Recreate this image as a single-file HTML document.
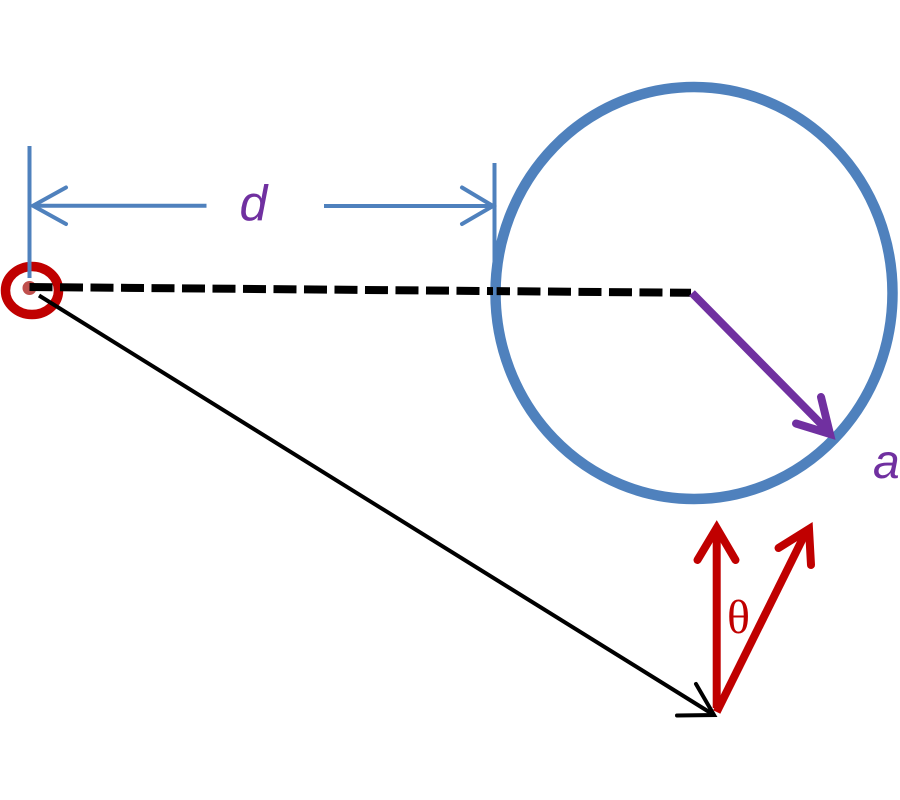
<!DOCTYPE html>
<html>
<head>
<meta charset="utf-8">
<style>
html,body{margin:0;padding:0;background:#fff;width:900px;height:800px;overflow:hidden}
svg{display:block}
</style>
</head>
<body>
<svg width="900" height="800" viewBox="0 0 900 800" xmlns="http://www.w3.org/2000/svg" fill="none">
  <!-- big circle -->
  <ellipse cx="694" cy="293" rx="198.5" ry="206" stroke="#4f81bd" stroke-width="10.5"/>
  <!-- small source -->
  <circle cx="29.5" cy="288" r="7" fill="#c0504d"/>
  <ellipse cx="32" cy="290.5" rx="26.5" ry="24" stroke="#c00000" stroke-width="9.5"/>
  <!-- dimension lines -->
  <g stroke="#4f81bd" stroke-width="4" stroke-linecap="round" stroke-linejoin="miter">
    <line x1="29.5" y1="146" x2="29.5" y2="278" stroke-linecap="butt"/>
    <line x1="494.5" y1="163" x2="494.5" y2="262" stroke-linecap="butt"/>
    <line x1="33" y1="205.8" x2="206.5" y2="205.8" stroke-linecap="butt"/>
    <line x1="324" y1="206" x2="492" y2="206" stroke-linecap="butt"/>
    <polyline points="66,187.5 33,205.8 66,224"/>
    <polyline points="462,187.5 493,206 462,224"/>
  </g>
  <!-- dashed -->
  <line x1="29.5" y1="287" x2="691" y2="292.8" stroke="#000" stroke-width="8" stroke-dasharray="23 7.5"/>
  <rect x="493" y="286" width="3.6" height="10" fill="#4f81bd"/>
  <!-- black arrow -->
  <line x1="39" y1="295.5" x2="714" y2="715" stroke="#000" stroke-width="4"/>
  <polyline points="696,684 714,715 677,715.5" stroke="#000" stroke-width="4" stroke-linecap="round"/>
  <!-- purple arrow -->
  <line x1="692" y1="293" x2="829" y2="432" stroke="#7030a0" stroke-width="8"/>
  <polyline points="821,397 830,434 796,423.5" stroke="#7030a0" stroke-width="8" stroke-linecap="round"/>
  <!-- red arrows -->
  <g stroke="#c00000" stroke-width="8" stroke-linecap="round">
    <line x1="716.7" y1="708" x2="716.7" y2="532" stroke-linecap="butt"/>
    <polyline points="697.5,560 716.7,528 735.5,560"/>
    <line x1="716.7" y1="712" x2="806" y2="532" stroke-linecap="butt"/>
    <polyline points="778.5,548 809,529 811,565"/>
  </g>
  <!-- labels -->
  <text x="239.5" y="220.5" font-family="Liberation Sans, sans-serif" font-style="italic" font-size="50" fill="#7030a0">d</text>
  <text x="873" y="478" font-family="Liberation Sans, sans-serif" font-style="italic" font-size="48" fill="#7030a0">a</text>
  <text x="727" y="633" font-family="Liberation Serif, serif" font-size="48" fill="#c00000">θ</text>
</svg>
</body>
</html>
